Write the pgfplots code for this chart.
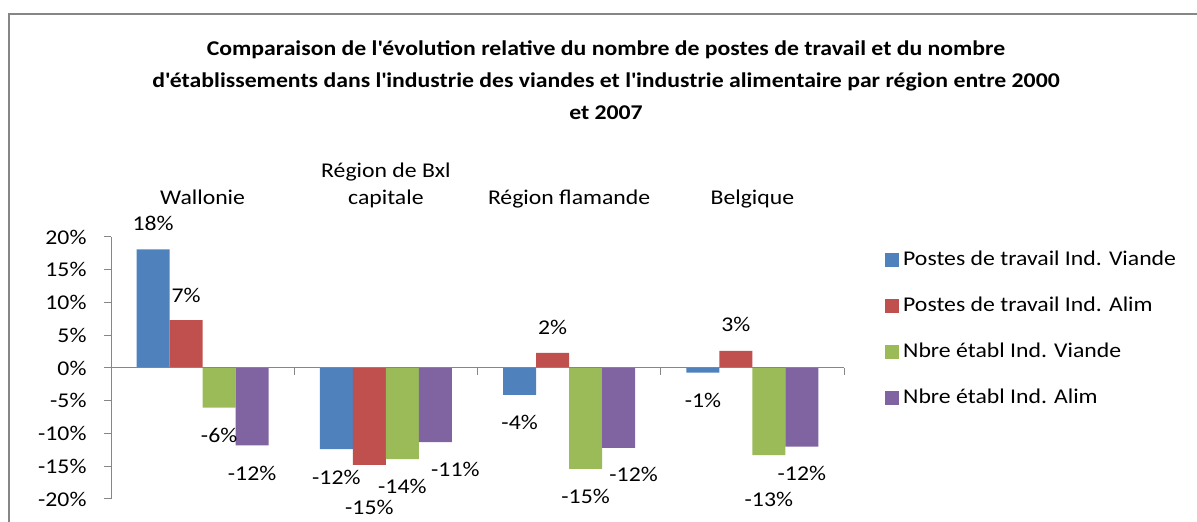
\documentclass[border=0pt]{standalone}
\usepackage{fontspec}
\setmainfont{Carlito}[FakeStretch=1.13]
\usepackage{pgfplots}
\pgfplotsset{compat=1.18}
\usepackage{pgfplotstable}
\definecolor{cblue}{HTML}{4F81BD}
\definecolor{cred}{HTML}{C0504D}
\definecolor{cgreen}{HTML}{9BBB59}
\definecolor{cpurple}{HTML}{8064A2}
\definecolor{axgray}{HTML}{868686}

\pgfplotstableread{
x y lab lx ly
0 18.1 18 0 26
1 -12.4 -12 0 -28
2 -4.1 -4 0 -28
3 -0.7 -1 0 -28
}\viande
\pgfplotstableread{
x y lab lx ly
0 7.3 7 0 25
1 -14.8 -15 0 -42
2 2.3 2 0 26
3 2.6 3 0 27
}\alim
\pgfplotstableread{
x y lab lx ly
0 -6.05 -6 0 -28
1 -13.9 -14 0 -27
2 -15.4 -15 0 -28
3 -13.3 -13 0 -44
}\etabviande
\pgfplotstableread{
x y lab lx ly
0 -11.8 -12 0 -28
1 -11.3 -11 20 -27
2 -12.2 -12 15 -27
3 -12.0 -12 0 -27
}\etabalim

\pgfplotsset{lbl/.style={
  visualization depends on={\thisrow{lx} \as \lblx},
  visualization depends on={\thisrow{ly} \as \lbly},
  nodes near coords={\pgfplotspointmeta\%},
  nodes near coords style={anchor=center, xshift={\lblx*1pt}, yshift={\lbly*1pt}, font=\fontsize{21}{27}\selectfont, text=black},
}}

\begin{document}
\begin{tikzpicture}
\useasboundingbox (0,0) rectangle (1197pt,522pt);
\clip (0,0) rectangle (1197pt,522pt);
\draw[axgray, line width=1.5pt] (9pt,-5pt) -- (9pt,508pt) -- (1205pt,508pt);
\node[align=center, font=\bfseries\fontsize{21}{32}\selectfont] at (606pt,442pt)
 {Comparaison de l\textquotesingle évolution relative du nombre de postes de travail et du nombre\\d\textquotesingle établissements dans l\textquotesingle industrie des viandes et l\textquotesingle industrie alimentaire par région entre 2000\\et 2007};
\begin{axis}[
 at={(111pt,23pt)}, anchor=south west,
 scale only axis, width=733pt, height=262pt,
 xmin=-0.5, xmax=3.5, ymin=-20, ymax=20,
 ybar=0pt, bar width=33pt,
 clip=false,
 axis y line*=left, axis x line*=top,
 x axis line style={draw=none},
 y axis line style={axgray, line width=1pt},
 xtick={0,1,2,3},
 xticklabels={Wallonie,{Région de Bxl\\capitale},Région flamande,Belgique},
 xtick style={draw=none},
 xticklabel style={align=center, anchor=south, text depth=6pt, yshift=16pt},
 ytick={-20,-15,...,20},
 yticklabels={-20\%,-15\%,-10\%,-5\%,0\%,5\%,10\%,15\%,20\%},
 yticklabel style={xshift=-14pt},
 ytick style={axgray, line width=1pt},
 tick align=outside, major tick length=7pt,
 font=\fontsize{21}{27}\selectfont,
 every tick label/.append style={font=\fontsize{21}{27}\selectfont},
 legend style={at={(1,1)}, anchor=north west, xshift=41pt, yshift=-10pt, draw=none, fill=none, inner sep=0pt,
   row sep=21pt, column sep=2pt, nodes={inner sep=2pt, text height=16pt, text depth=5pt}, font=\fontsize{21}{27}\selectfont},
 legend cell align=left,
 legend image code/.code={\fill[#1] (0pt,-7pt) rectangle (14pt,7pt);},
]
\addplot[fill=cblue, draw=none, point meta=explicit symbolic, lbl] table[x=x, y=y, meta=lab] {\viande};
\addlegendentry{Postes de travail Ind. Viande}
\addplot[fill=cred, draw=none, point meta=explicit symbolic, lbl] table[x=x, y=y, meta=lab] {\alim};
\addlegendentry{Postes de travail Ind. Alim}
\addplot[fill=cgreen, draw=none, point meta=explicit symbolic, lbl] table[x=x, y=y, meta=lab] {\etabviande};
\addlegendentry{Nbre établ Ind. Viande}
\addplot[fill=cpurple, draw=none, point meta=explicit symbolic, lbl] table[x=x, y=y, meta=lab] {\etabalim};
\addlegendentry{Nbre établ Ind. Alim}
\draw[axgray, line width=1pt] (axis cs:-0.5,0) -- (axis cs:3.5,0);
\pgfplotsinvokeforeach{-0.5,0.5,1.5,2.5,3.5}{
  \draw[axgray, line width=1pt] (axis cs:#1,0) -- ++(0pt,-7pt);
}
\end{axis}
\end{tikzpicture}
\end{document}
